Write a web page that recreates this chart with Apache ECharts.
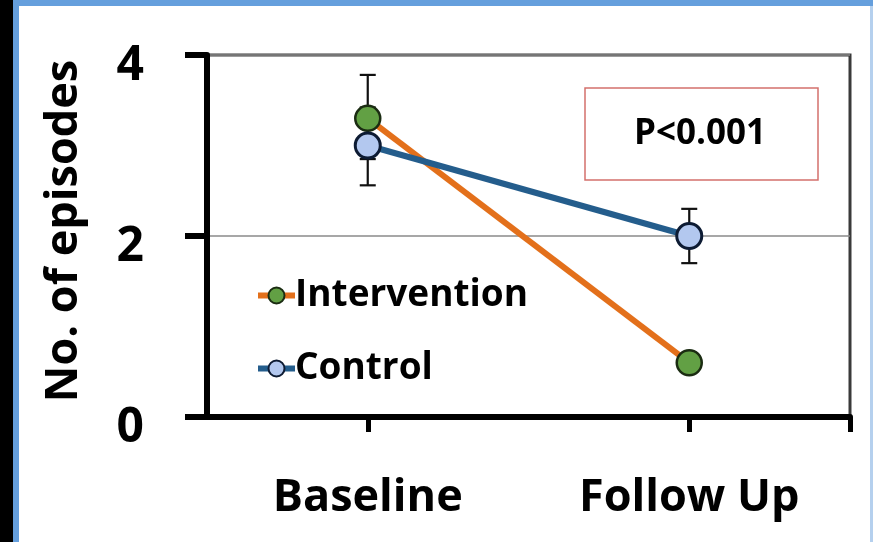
<!DOCTYPE html>
<html>
<head>
<meta charset="utf-8">
<script src="https://cdn.jsdelivr.net/npm/echarts@6/dist/echarts.min.js"></script>
<style>
  html, body { margin: 0; padding: 0; background: #000; }
  #chart { width: 873px; height: 542px; }
</style>
</head>
<body>
<div id="chart"></div>
<script>
// Episodes per group, measured at baseline and at follow up
const categories = ['Baseline', 'Follow Up'];
const seriesNames = ['Intervention', 'Control'];
const interventionMean = [3.3, 0.6];
const controlMean = [3.0, 2.0];
// Error bar ends (low, high) for each group
const interventionLow = [2.85, 0.6];
const interventionHigh = [3.78, 0.6];
const controlLow = [2.56, 1.7];
const controlHigh = [3.42, 2.3];
const yTicks = [0, 2, 4];
const pValueText = 'P<0.001';

const FONT = '"Open Sans", "DejaVu Sans", sans-serif';

const chart = echarts.init(document.getElementById('chart'), null, { renderer: 'canvas' });

function errorData(low, high) {
  return categories.map((c, i) => [i, low[i], high[i]]);
}

function renderErrorBar(params, api) {
  const x = api.value(0);
  const lo = api.coord([x, api.value(1)]);
  const hi = api.coord([x, api.value(2)]);
  const half = 8;
  const style = { stroke: '#111', lineWidth: 2.2 };
  return {
    type: 'group',
    children: [
      { type: 'line', shape: { x1: lo[0], y1: lo[1], x2: hi[0], y2: hi[1] }, style },
      { type: 'line', shape: { x1: hi[0] - half, y1: hi[1], x2: hi[0] + half, y2: hi[1] }, style },
      { type: 'line', shape: { x1: lo[0] - half, y1: lo[1], x2: lo[0] + half, y2: lo[1] }, style }
    ]
  };
}

const option = {
  backgroundColor: '#ffffff',
  animation: false,
  textStyle: { fontFamily: FONT },
  graphic: [
    { type: 'rect', z: -10, shape: { x: 0, y: 0, width: 13, height: 542 }, style: { fill: '#000' } },
    { type: 'rect', z: -10, shape: { x: 13, y: 0, width: 6, height: 542 }, style: { fill: '#659fdd' } },
    { type: 'rect', z: -10, shape: { x: 13, y: 0, width: 860, height: 6 }, style: { fill: '#659fdd' } },
    { type: 'rect', z: -10, shape: { x: 870, y: 6, width: 3, height: 536 }, style: { fill: '#b5d0ee' } },
    {
      type: 'group', z: 20,
      children: [
        { type: 'rect', shape: { x: 585, y: 88, width: 233, height: 92 },
          style: { fill: '#fff', stroke: '#d4706c', lineWidth: 1.5 } },
        { type: 'text', x: 700, y: 134,
          style: { text: pValueText, fill: '#000', font: 'bold 35px ' + FONT,
                   textAlign: 'center', textVerticalAlign: 'middle' } }
      ]
    }
  ],
  grid: {
    left: 207, right: 23, top: 55, bottom: 125,
    show: true, borderColor: '#3a3a3a', borderWidth: 3, backgroundColor: 'transparent'
  },
  legend: {
    data: seriesNames,
    orient: 'vertical',
    left: 250,
    top: 272,
    itemWidth: 37,
    itemHeight: 20,
    itemGap: 36,
    lineStyle: { width: 6 },
    textStyle: { fontFamily: FONT, fontSize: 37, fontWeight: 'bold', color: '#000', padding: [0, 0, 0, -5] }
  },
  xAxis: [
    {
      type: 'category',
      data: categories,
      boundaryGap: true,
      position: 'bottom',
      axisLine: { lineStyle: { color: '#000', width: 6 } },
      axisTick: { show: false },
      axisLabel: { color: '#000', fontFamily: FONT, fontSize: 45, fontWeight: 'bold', margin: 59 },
      splitLine: { show: false }
    },
    {
      // tick marks under the category centres and at the right end
      type: 'value',
      min: 0, max: 2,
      position: 'bottom',
      axisLine: { show: false },
      axisTick: { show: true, customValues: [0.5, 1.5, 2], length: 15, lineStyle: { color: '#000', width: 5 } },
      axisLabel: { show: false },
      splitLine: { show: false }
    }
  ],
  yAxis: {
    type: 'value',
    min: 0, max: 4, interval: 2,
    name: 'No. of episodes',
    nameLocation: 'middle',
    nameRotate: 90,
    nameGap: 120,
    nameTextStyle: { color: '#000', fontFamily: FONT, fontSize: 45, fontWeight: 'bold', padding: [0, 0, 0, 10] },
    axisLine: { show: true, lineStyle: { color: '#000', width: 6 } },
    axisTick: { show: true, length: 22, lineStyle: { color: '#000', width: 6 } },
    axisLabel: {
      color: '#000', fontFamily: FONT, fontSize: 48, fontWeight: 'bold', margin: 63,
      verticalAlign: 'top', lineHeight: 22,
      formatter: v => (yTicks.indexOf(v) >= 0 ? String(v) : '')
    },
    splitLine: { show: true, lineStyle: { color: '#8a8a8a', width: 1.5 } }
  },
  series: [
    {
      type: 'custom', name: 'intervention-err', z: 1,
      xAxisIndex: 0, renderItem: renderErrorBar,
      data: errorData(interventionLow, interventionHigh), silent: true
    },
    {
      type: 'custom', name: 'control-err', z: 1,
      xAxisIndex: 0, renderItem: renderErrorBar,
      data: errorData(controlLow, controlHigh), silent: true
    },
    {
      name: seriesNames[0], type: 'line', z: 3, xAxisIndex: 0,
      data: interventionMean,
      symbol: 'circle', symbolSize: 25,
      lineStyle: { color: '#e3701b', width: 6 },
      itemStyle: { color: '#62a044', borderColor: '#1b2c12', borderWidth: 2.5 }
    },
    {
      name: seriesNames[1], type: 'line', z: 4, xAxisIndex: 0,
      data: controlMean,
      symbol: 'circle', symbolSize: 25,
      lineStyle: { color: '#245d8c', width: 6 },
      itemStyle: { color: '#b3c8ef', borderColor: '#0d1b33', borderWidth: 3 }
    }
  ]
};

chart.setOption(option);
</script>
</body>
</html>
